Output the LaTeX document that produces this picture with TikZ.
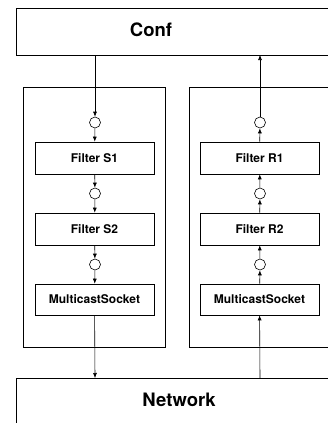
\documentclass[tikz,border=0pt]{standalone}
\usepackage{fontspec}
\setmainfont{TeX Gyre Heros}
\usetikzlibrary{arrows.meta}
\tikzset{
  filter/.style={draw,line width=0.6pt,minimum width=119pt,minimum height=32pt,inner sep=0pt,
    font=\fontsize{12}{14}\selectfont\bfseries},
  port/.style={draw,circle,line width=0.6pt,minimum size=11pt,inner sep=0pt},
  big/.style={font=\fontsize{18.5}{20}\selectfont\bfseries},
  frame/.style={draw,line width=0.6pt,inner sep=0pt},
  flow/.style={line width=0.6pt,-{Latex[length=5pt,width=4pt]}}
}
\begin{document}
\begin{tikzpicture}[x=1pt,y=-1pt]
\useasboundingbox (0,0) rectangle (328,423);
\clip (0,0) rectangle (328,423);
% layers
\node[frame,minimum width=340pt,minimum height=47pt] (confbox) at (186,31.5) {};
\node[big] (conf) at (151,30) {Conf};
\node[frame,minimum width=340pt,minimum height=90pt] (netbox) at (186,423) {};
\node[big] (net) at (179,400) {Network};
\node[frame,minimum width=142pt,minimum height=260pt] (send) at (94,217) {};
\node[frame,minimum width=160pt,minimum height=260pt] (recv) at (269,217) {};
% sender stack
\node[filter] (s1) at (94.5,158) {Filter S1};
\node[filter] (s2) at (94.5,229) {Filter S2};
\node[filter,minimum height=31pt] (sm) at (94.5,299.5) {MulticastSocket};
\node[port] (cs0) at (95,122.5) {};
\node[port] (cs1) at (95,193.5) {};
\node[port] (cs2) at (95,264.5) {};
% receiver stack
\node[filter] (r1) at (259.5,158) {Filter R1};
\node[filter] (r2) at (259.5,229) {Filter R2};
\node[filter,minimum height=31pt] (rm) at (259.5,299.5) {MulticastSocket};
\node[port] (cr0) at (260,122.5) {};
\node[port] (cr1) at (260,193.5) {};
\node[port] (cr2) at (260,264.5) {};
\coordinate (confout) at (95,55);
\coordinate (confin) at (260,55);
\coordinate (netin) at (95,378);
\coordinate (netout) at (260,378);
\path[flow] (confout) edge (cs0) (cs0) edge (s1) (s1) edge (cs1) (cs1) edge (s2)
  (s2) edge (cs2) (cs2) edge (sm) (sm) edge (netin);
\path[flow] (netout) edge (rm) (rm) edge (cr2) (cr2) edge (r2) (r2) edge (cr1)
  (cr1) edge (r1) (r1) edge (cr0) (cr0) edge (confin);
\end{tikzpicture}
\end{document}
